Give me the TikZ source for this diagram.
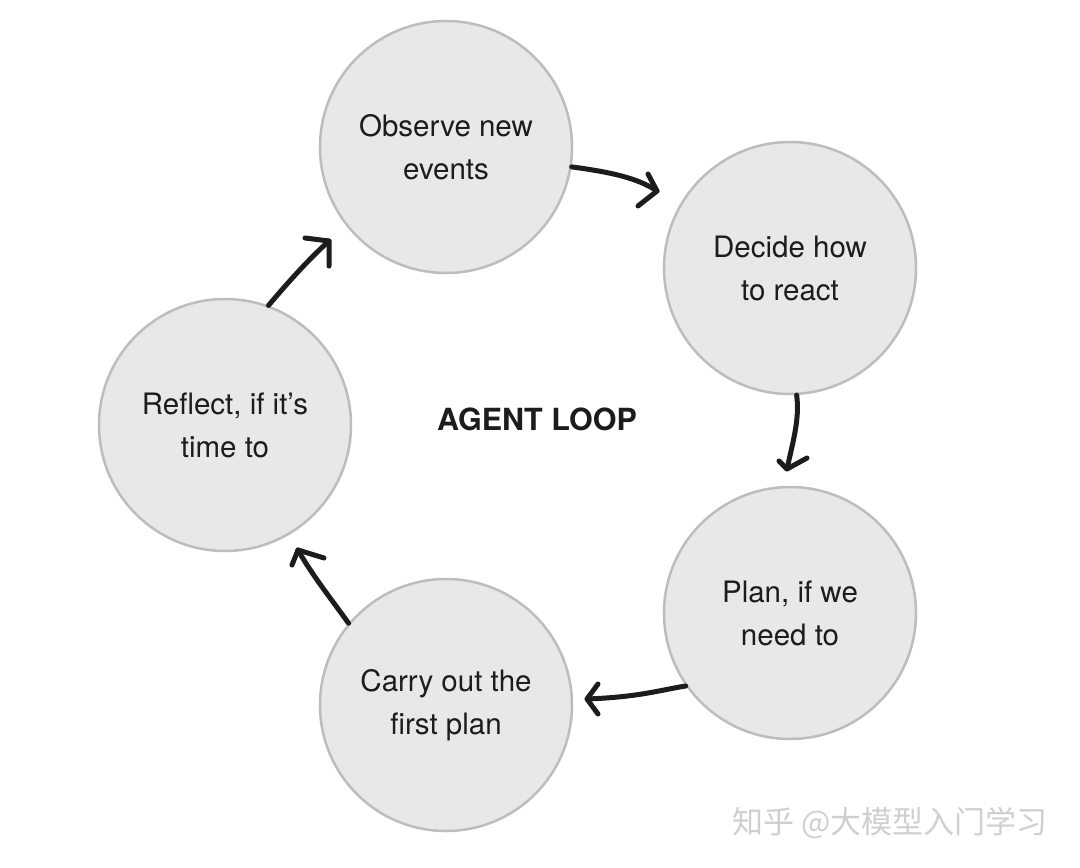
\documentclass[tikz,border=0pt]{standalone}
\usepackage{fontspec}
\setmainfont{TeX Gyre Heros}
\newfontfamily\cjk{Noto Sans CJK SC}
\definecolor{cfill}{HTML}{E8E8E8}
\definecolor{cline}{HTML}{BDBDBD}
\definecolor{ink}{HTML}{1C1C1C}
\definecolor{wm}{HTML}{CFCFCF}
\begin{document}
\begin{tikzpicture}[x=1pt,y=-1pt,
  stage/.style={circle,fill=cfill,draw=cline,line width=2.5pt,minimum size=252pt,inner sep=0pt,
    align=center,font=\fontsize{29.5}{43}\selectfont,text=ink},
  stroke/.style={draw=ink,line width=5pt,line cap=round,line join=round}]
\useasboundingbox (0,0) rectangle (1080,868);
\node[stage] (obs) at (446,147) {Observe new\\events};
\node[stage] (dec) at (790,268) {Decide how\\to react};
\node[stage] (pln) at (790,613) {Plan, if we\\need to};
\node[stage] (car) at (446,705) {Carry out the\\first plan};
\node[stage] (ref) at (225,425) {Reflect, if it’s\\time to};
\node[font=\fontsize{30.5}{36}\selectfont\bfseries,text=ink] (title) at (537,419) {AGENT LOOP};
\node[font=\cjk\fontsize{31}{36}\selectfont,text=wm] (wmark) at (890,823) {知乎 @大模型入门学习};
% arrow tips
\coordinate (t1) at (657,191);
\coordinate (t2) at (787,469);
\coordinate (t3) at (587,699);
\coordinate (t4) at (298,550);
\coordinate (t5) at (329,241);
% stems
\path[stroke] (obs.-9) .. controls (610,172) and (638,178) .. (t1);
\path[stroke] (dec.-87) .. controls (800,420) and (792,445) .. (t2);
\path[stroke] (pln.215) .. controls (660,690) and (640,697) .. (t3);
\path[stroke] (car.140) .. controls (332,600) and (312,575) .. (t4);
\path[stroke] (ref.70) .. controls (290,280) and (310,258) .. (t5);
% heads
\path[stroke] (648,174) -- (t1) -- (638,206);
\path[stroke] (779,461) -- (t2) -- (807,458);
\path[stroke] (598,684) -- (t3) -- (598,714);
\path[stroke] (292,565) -- (t4) -- (324,558);
\path[stroke] (305,238) -- (t5) -- (329,266);
\end{tikzpicture}
\end{document}
